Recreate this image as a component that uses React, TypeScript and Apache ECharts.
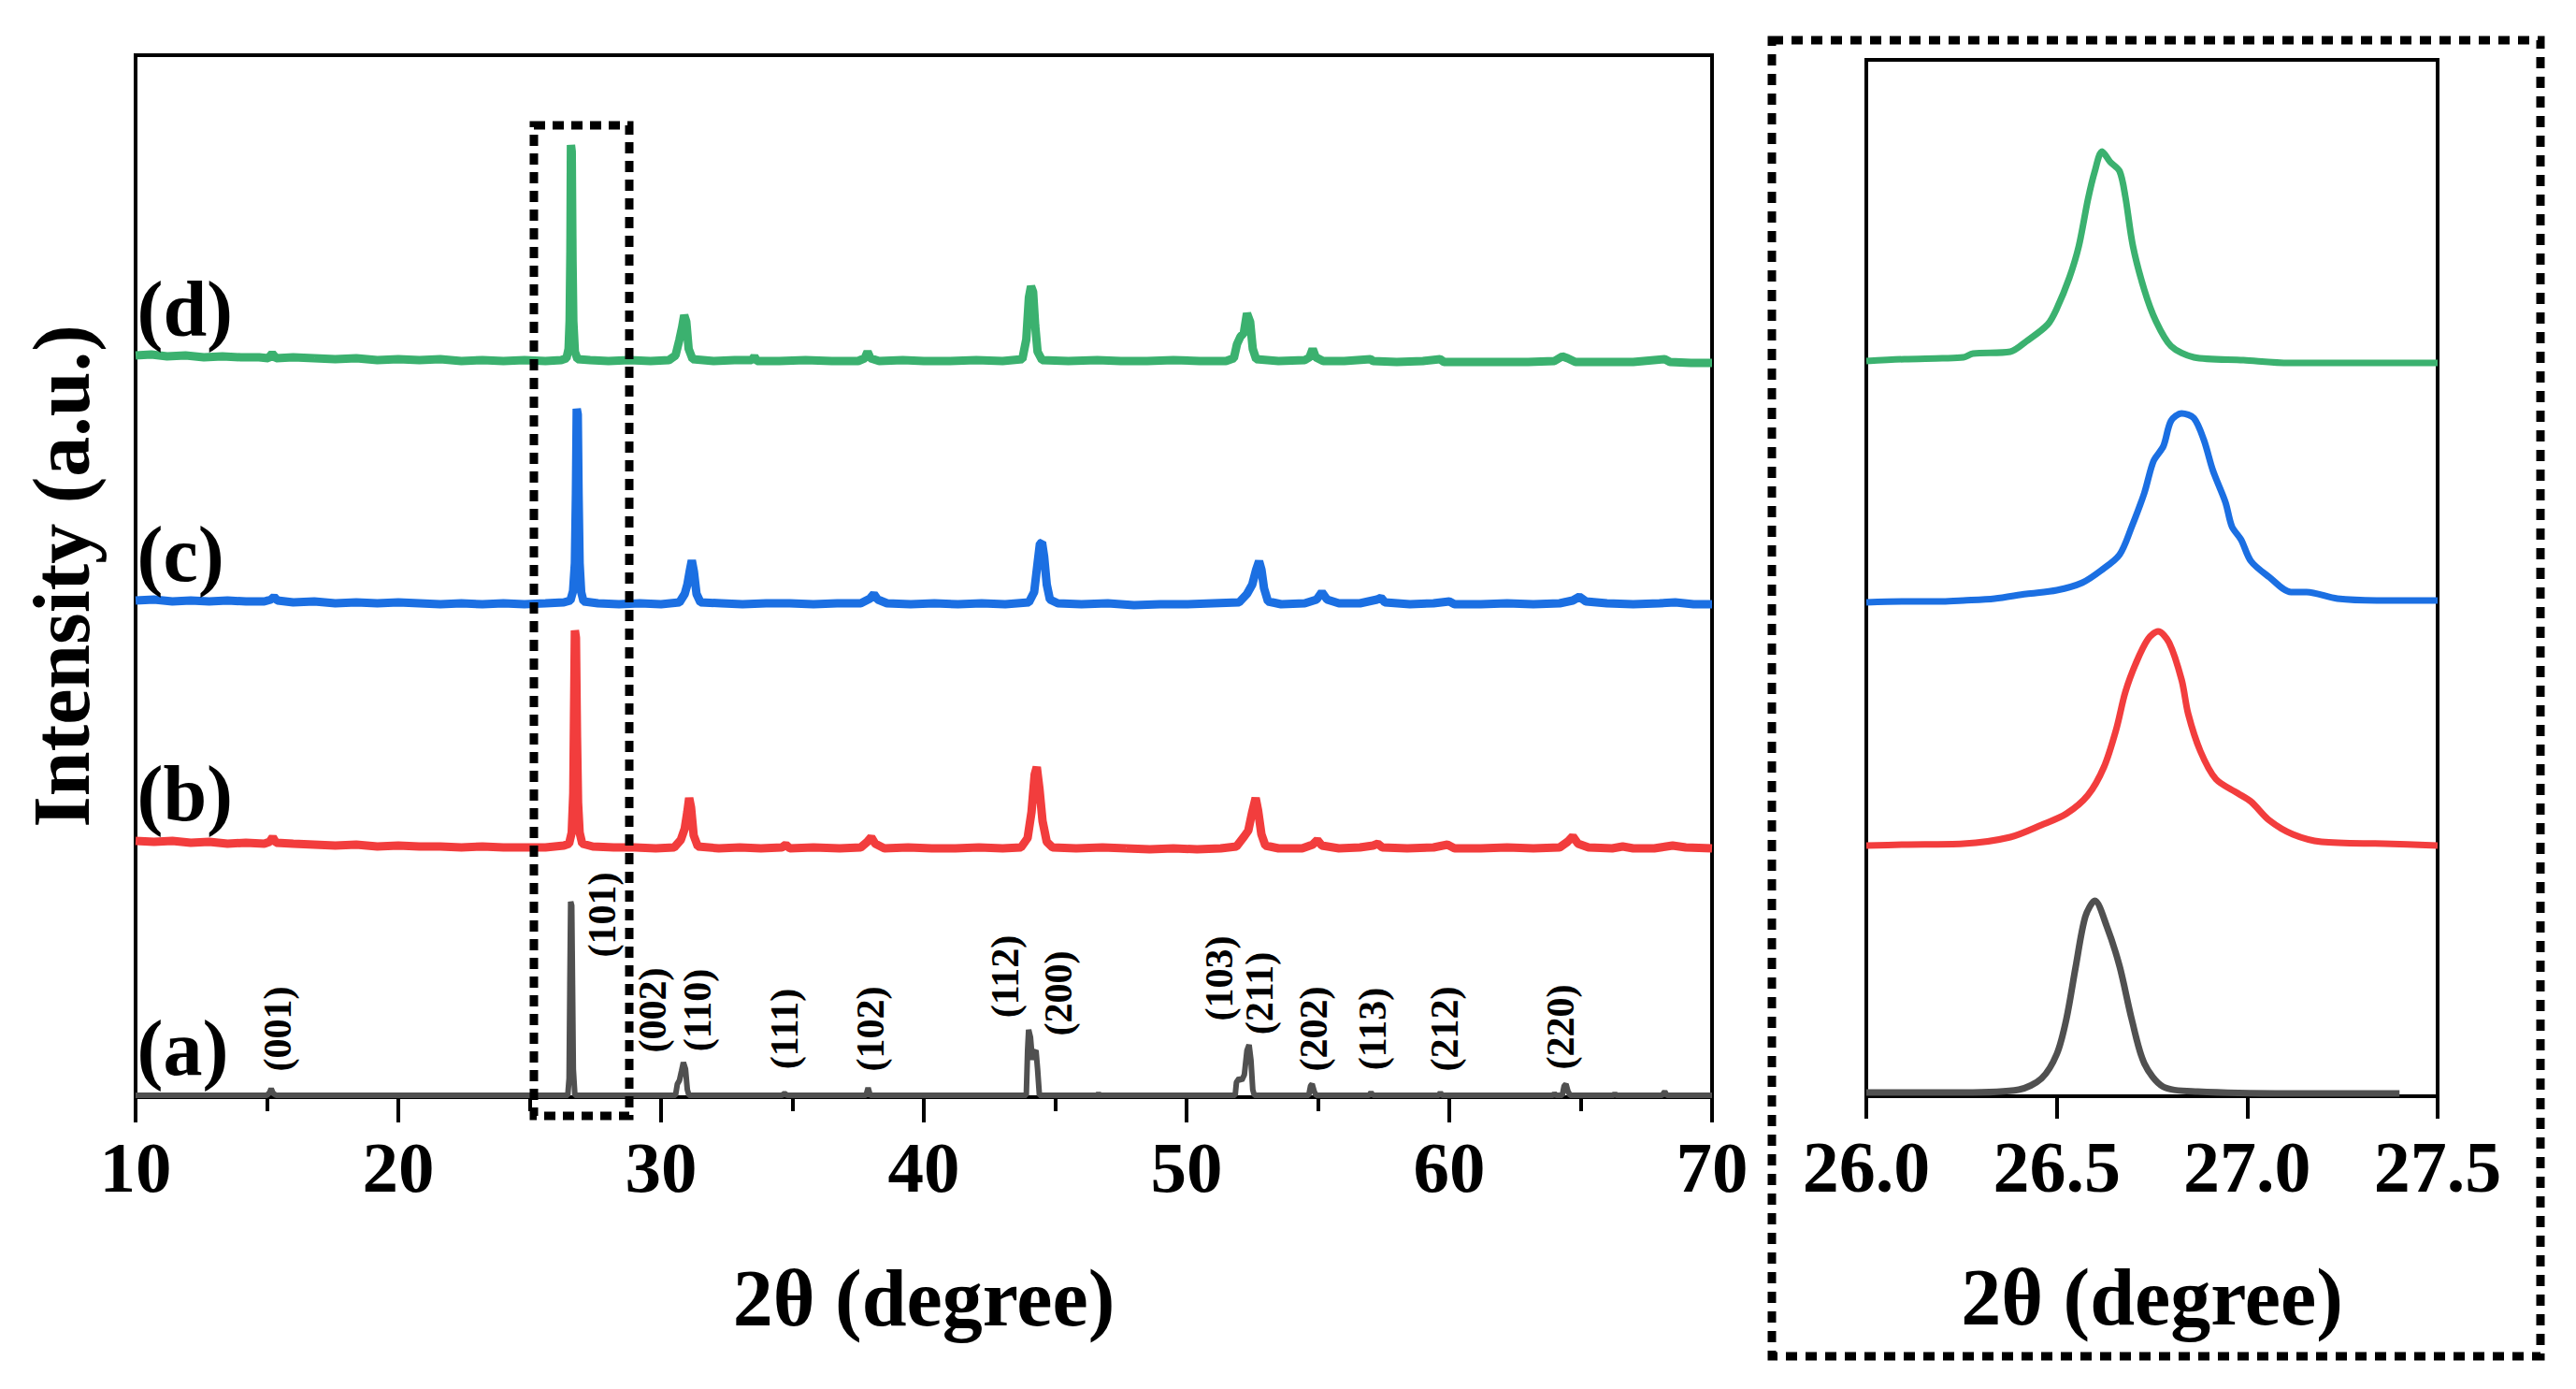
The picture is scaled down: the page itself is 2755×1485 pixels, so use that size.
import React, { useEffect, useRef } from "react";
import * as echarts from "echarts";

const FONT = '"Liberation Serif", "Times New Roman", serif';

// sample names and colours: (a) reference, (b), (c), (d)
const sampleNames = ["(a)", "(b)", "(c)", "(d)"];
const sampleColors = ["#505050", "#f23d3d", "#1b6fe2", "#3bb16f"];
// vertical offsets (a.u.) used to stack the patterns
const offsets = [0, 265, 526, 785];
// y-position (a.u.) of the sample tags
const sampleTagY = [53, 325, 581, 843];
const sampleTagX = 10.05;

// main panel axis
const mainXTicks = [10, 20, 30, 40, 50, 60, 70];
const mainYMax = 1114;
// inset axis
const insetXTicks = [26.0, 26.5, 27.0, 27.5];
const insetYMax = 1108;

// Zoomed region of the main panel (2θ range and a.u. range)
const zoomBoxX = [25.16, 28.79];
const zoomBoxY = [-20, 1039];

// Miller-index labels of the reference pattern (a)
const hklLabels = ["(001)", "(101)", "(002)", "(110)", "(111)", "(102)", "(112)", "(200)", "(103)", "(211)", "(202)", "(113)", "(212)", "(220)"];
const hklX = [15.41, 27.76, 29.68, 31.39, 34.7, 37.97, 43.1, 45.12, 51.25, 52.78, 54.84, 57.08, 59.82, 64.23];
const hklY = [73, 195, 93, 93, 73, 73, 129, 111, 127, 111, 73, 73, 73, 75];

// ---- main panel patterns (2θ, intensity before offset) ----
const patternA: [number, number][] = [
  [10.0, 2], [15.0, 2], [15.1, 5], [15.16, 9], [15.24, 4], [15.35, 2], [26.45, 2], [26.5, 20], [26.53, 120], [26.56, 209], [26.6, 205], [26.63, 120], [26.66, 30], [26.72, 2],
  [30.55, 2], [30.62, 14], [30.7, 18], [30.78, 28], [30.85, 37], [30.93, 30], [31.0, 8], [31.06, 2], [34.6, 2], [34.7, 4], [34.8, 2], [37.8, 2], [37.88, 10], [37.96, 2],
  [43.9, 2], [43.95, 50], [43.99, 72], [44.06, 64], [44.13, 40], [44.2, 48], [44.27, 50], [44.33, 30], [44.4, 2], [46.6, 2], [46.65, 4], [46.7, 2],
  [51.85, 2], [51.9, 16], [52.0, 20], [52.1, 18], [52.2, 24], [52.3, 50], [52.38, 56], [52.45, 40], [52.52, 8], [52.58, 2],
  [54.65, 2], [54.72, 12], [54.78, 14], [54.86, 6], [54.93, 2], [56.95, 2], [57.02, 5], [57.1, 2], [59.6, 2], [59.66, 5], [59.72, 2],
  [63.95, 2], [64.0, 4], [64.06, 2], [64.3, 2], [64.37, 12], [64.44, 14], [64.52, 6], [64.6, 2], [66.25, 2], [66.3, 4], [66.35, 2], [68.1, 2], [68.2, 6], [68.28, 2], [70.0, 2],
];

const patternB: [number, number][] = [
  [10.0, 9], [10.7, 8], [11.4, 9], [12.1, 7], [12.8, 8], [13.5, 6], [14.2, 7], [14.9, 6], [15.1, 8], [15.22, 13], [15.35, 7], [16.0, 6], [16.8, 5], [17.6, 4], [18.4, 5], [19.2, 3],
  [20.0, 4], [20.8, 3], [21.6, 3], [22.4, 2], [23.2, 3], [24.0, 2], [24.8, 2], [25.6, 2], [26.3, 4], [26.5, 6], [26.6, 18], [26.66, 60], [26.69, 150], [26.72, 234], [26.76, 226],
  [26.8, 120], [26.84, 50], [26.9, 18], [27.0, 6], [27.4, 3], [28.2, 2], [29.0, 2], [29.8, 1], [30.5, 2], [30.75, 10], [30.9, 22], [31.0, 40], [31.07, 55], [31.14, 45], [31.24, 15],
  [31.4, 3], [32.2, 1], [33.0, 2], [33.8, 1], [34.6, 2], [34.75, 5], [34.9, 1], [35.8, 2], [36.8, 1], [37.6, 2], [37.85, 8], [38.0, 13], [38.15, 6], [38.5, 1], [39.4, 2], [40.3, 1],
  [41.2, 1], [42.1, 2], [43.0, 1], [43.7, 2], [43.95, 12], [44.1, 40], [44.22, 80], [44.3, 88], [44.4, 65], [44.52, 30], [44.68, 8], [44.9, 2], [45.8, 1], [46.8, 2], [47.7, 1],
  [48.6, 0], [49.5, 1], [50.4, 0], [51.3, 1], [51.9, 3], [52.2, 14], [52.35, 20], [52.5, 40], [52.63, 55], [52.72, 42], [52.85, 16], [53.0, 4], [53.5, 1], [54.4, 1], [54.8, 5],
  [54.98, 10], [55.15, 4], [55.8, 1], [56.6, 2], [57.1, 4], [57.28, 6], [57.45, 2], [58.4, 1], [59.4, 2], [59.93, 5], [60.2, 1], [61.2, 1], [62.2, 2], [63.2, 1], [64.2, 2],
  [64.5, 8], [64.7, 14], [64.9, 6], [65.3, 2], [66.2, 1], [66.6, 3], [67.0, 1], [67.8, 1], [68.5, 4], [69.0, 2], [70.0, 1],
];

const patternC: [number, number][] = [
  [10.0, 5], [10.7, 6], [11.4, 4], [12.1, 5], [12.8, 4], [13.5, 5], [14.2, 4], [14.9, 4], [15.15, 6], [15.27, 9], [15.4, 5], [16.0, 3], [16.8, 4], [17.6, 2], [18.4, 3], [19.2, 2],
  [20.0, 3], [20.8, 2], [21.6, 1], [22.4, 2], [23.2, 1], [24.0, 2], [24.8, 1], [25.6, 2], [26.3, 3], [26.55, 5], [26.65, 15], [26.72, 45], [26.76, 120], [26.79, 210], [26.83, 204],
  [26.86, 120], [26.9, 45], [26.96, 14], [27.05, 4], [27.6, 2], [28.4, 1], [29.2, 2], [30.0, 1], [30.7, 3], [30.9, 12], [31.0, 22], [31.1, 38], [31.17, 48], [31.25, 36], [31.35, 12],
  [31.5, 3], [32.3, 2], [33.1, 1], [34.0, 2], [34.9, 2], [35.8, 1], [36.7, 2], [37.6, 2], [37.95, 7], [38.1, 12], [38.25, 6], [38.6, 2], [39.5, 1], [40.4, 2], [41.3, 1], [42.2, 2],
  [43.1, 1], [44.0, 3], [44.2, 14], [44.33, 45], [44.42, 66], [44.5, 67], [44.58, 52], [44.68, 22], [44.8, 6], [45.1, 2], [46.0, 1], [47.0, 2], [48.0, 0], [49.0, 1], [50.0, 1],
  [51.0, 2], [52.0, 3], [52.3, 12], [52.5, 22], [52.65, 38], [52.76, 47], [52.85, 38], [52.95, 18], [53.1, 4], [53.6, 1], [54.5, 2], [54.95, 6], [55.15, 14], [55.35, 6], [55.8, 2],
  [56.6, 2], [57.25, 6], [57.4, 8], [57.55, 3], [58.5, 1], [59.4, 2], [60.0, 4], [60.2, 1], [61.2, 1], [62.2, 2], [63.2, 1], [64.2, 2], [64.7, 5], [64.95, 9], [65.2, 4], [66.0, 2],
  [67.0, 1], [68.0, 2], [68.6, 3], [69.3, 1], [70.0, 1],
];

const patternD: [number, number][] = [
  [10.0, 8], [10.6, 9], [11.2, 7], [11.9, 8], [12.6, 6], [13.3, 7], [14.0, 6], [14.7, 6], [15.05, 5], [15.2, 10], [15.35, 5], [16.0, 6], [16.8, 5], [17.6, 4], [18.4, 5], [19.2, 3],
  [20.0, 4], [20.8, 3], [21.6, 4], [22.4, 2], [23.2, 3], [24.0, 2], [24.8, 3], [25.6, 2], [26.2, 3], [26.4, 5], [26.48, 15], [26.52, 45], [26.55, 120], [26.57, 233], [26.6, 226],
  [26.63, 110], [26.66, 45], [26.72, 12], [26.82, 4], [27.3, 3], [28.0, 2], [28.8, 3], [29.6, 2], [30.3, 3], [30.55, 8], [30.7, 25], [30.8, 38], [30.88, 51], [30.96, 44], [31.05, 15],
  [31.2, 4], [32.0, 2], [32.8, 3], [33.45, 3], [33.55, 7], [33.65, 2], [34.5, 2], [35.5, 3], [36.5, 2], [37.5, 2], [37.75, 5], [37.86, 12], [37.97, 5], [38.3, 2], [39.2, 3], [40.0, 2],
  [41.0, 2], [42.0, 3], [43.0, 2], [43.75, 4], [43.9, 25], [44.0, 70], [44.08, 82], [44.16, 76], [44.24, 40], [44.33, 12], [44.5, 3], [45.5, 2], [46.6, 3], [47.5, 2], [48.5, 2],
  [49.5, 3], [50.5, 2], [51.5, 2], [51.8, 5], [51.92, 20], [52.05, 28], [52.18, 32], [52.3, 53], [52.42, 44], [52.52, 15], [52.65, 4], [53.5, 2], [54.5, 3], [54.68, 6], [54.8, 15],
  [54.92, 6], [55.2, 2], [56.0, 2], [57.0, 4], [57.1, 2], [58.0, 1], [59.0, 2], [59.65, 4], [59.8, 1], [61.0, 1], [62.0, 1], [63.0, 1], [64.0, 2], [64.3, 7], [64.5, 5], [64.8, 1],
  [66.0, 1], [67.0, 1], [68.2, 4], [68.4, 1], [69.2, 0], [70.0, 0],
];

// ---- inset (101) peak region (2θ, intensity before offset) ----
const insetA: [number, number][] = [
  [26.0, 4], [26.255, 4], [26.4, 7], [26.46, 19], [26.5, 45], [26.525, 82], [26.55, 139], [26.575, 192], [26.6, 209], [26.631, 182], [26.665, 139], [26.697, 82], [26.73, 35],
  [26.78, 10], [26.87, 5], [27.11, 3], [27.4, 3],
];
const insetB: [number, number][] = [
  [26.0, 3], [26.1, 4], [26.255, 5], [26.378, 12], [26.46, 25], [26.525, 37], [26.582, 57], [26.624, 87], [26.656, 127], [26.68, 167], [26.71, 200], [26.74, 224], [26.766, 232],
  [26.795, 220], [26.828, 180], [26.845, 144], [26.877, 104], [26.918, 74], [26.975, 59], [27.01, 50], [27.058, 30], [27.12, 15], [27.195, 7], [27.36, 5], [27.5, 3],
];
const insetC: [number, number][] = [
  [26.0, 2], [26.1, 3], [26.2, 3], [26.255, 4], [26.337, 6], [26.42, 11], [26.5, 15], [26.567, 23], [26.616, 36], [26.665, 53], [26.697, 83], [26.73, 119], [26.754, 153],
  [26.78, 169], [26.8, 196], [26.828, 204], [26.86, 199], [26.886, 176], [26.91, 143], [26.943, 109], [26.96, 83], [26.984, 69], [27.01, 46], [27.058, 29], [27.115, 13],
  [27.156, 13], [27.237, 6], [27.36, 4], [27.5, 4],
];
const insetD: [number, number][] = [
  [26.0, 1], [26.1, 3], [26.2, 4], [26.255, 5], [26.28, 9], [26.378, 11], [26.42, 22], [26.476, 40], [26.5, 57], [26.533, 90], [26.558, 124], [26.582, 174], [26.6, 204],
  [26.619, 225], [26.64, 214], [26.665, 204], [26.68, 177], [26.7, 124], [26.73, 77], [26.76, 44], [26.8, 17], [26.86, 5], [26.99, 2], [27.11, -1], [27.24, -1], [27.5, -1],
];

const mainPatterns = [patternA, patternB, patternC, patternD];
const insetPatterns = [insetA, insetB, insetC, insetD];

// layout (pixels)
const W = 2755;
const H = 1485;
const mainGrid = { left: 145, top: 59, width: 1686, height: 1114 };
const insetGrid = { left: 1996, top: 64, width: 611, height: 1108 };
const insetFrame = { x: 1895, y: 43, width: 822, height: 1407 };

const shift = (pts: [number, number][], off: number) => pts.map(([x, y]) => [x, y + off]);

export default function App() {
  const ref = useRef<HTMLDivElement>(null);
  useEffect(() => {
    if (!ref.current) return;
    const chart = echarts.init(ref.current, null, { renderer: "svg" });
    const txt = { fontFamily: FONT, fontWeight: "bold" as const, color: "#000" };
    const series: any[] = [];
    mainPatterns.forEach((p, i) => {
      series.push({
        type: "line",
        name: sampleNames[i],
        xAxisIndex: 0,
        yAxisIndex: 0,
        data: shift(p, offsets[i]),
        showSymbol: false,
        symbol: "none",
        silent: true,
        lineStyle: { width: i === 0 ? 6 : 9, color: sampleColors[i] },
        z: 3,
      });
    });
    insetPatterns.forEach((p, i) => {
      series.push({
        type: "line",
        name: sampleNames[i] + " inset",
        xAxisIndex: 1,
        yAxisIndex: 1,
        data: shift(p, offsets[i]),
        showSymbol: false,
        symbol: "none",
        smooth: 0.3,
        silent: true,
        lineStyle: { width: 7, color: sampleColors[i] },
        z: 3,
      });
    });
    series.push({
      type: "scatter",
      xAxisIndex: 0,
      yAxisIndex: 0,
      symbolSize: 0,
      silent: true,
      itemStyle: { opacity: 1, color: "#000" },
      data: sampleNames.map((n, i) => ({ name: n, value: [sampleTagX, sampleTagY[i]] })),
      label: { show: true, opacity: 1, position: "inside", align: "left", verticalAlign: "middle", formatter: "{b}", fontSize: 84, ...txt },
      z: 5,
    });
    series.push({
      type: "scatter",
      xAxisIndex: 0,
      yAxisIndex: 0,
      symbolSize: 0,
      silent: true,
      itemStyle: { opacity: 1, color: "#000" },
      data: hklLabels.map((n, i) => ({ name: n, value: [hklX[i], hklY[i]] })),
      label: { show: true, opacity: 1, position: "inside", rotate: 90, align: "center", verticalAlign: "middle", formatter: "{b}", fontSize: 42, ...txt },
      z: 5,
    });

    const option: any = {
      animation: false,
      backgroundColor: "#ffffff",
      grid: [
        { ...mainGrid, show: true, borderColor: "#000", borderWidth: 4, backgroundColor: "transparent" },
        { ...insetGrid, show: true, borderColor: "#000", borderWidth: 4, backgroundColor: "transparent" },
      ],
      xAxis: [
        {
          type: "value",
          gridIndex: 0,
          min: mainXTicks[0],
          max: mainXTicks[mainXTicks.length - 1],
          interval: mainXTicks[1] - mainXTicks[0],
          axisLine: { show: true, lineStyle: { color: "#000", width: 4 } },
          axisTick: { show: true, inside: false, length: 27, lineStyle: { color: "#000", width: 4 } },
          minorTick: { show: true, splitNumber: 2, length: 15, lineStyle: { color: "#000", width: 4 } },
          splitLine: { show: false },
          minorSplitLine: { show: false },
          axisLabel: { fontSize: 77, margin: 36, ...txt },
          name: "2θ (degree)",
          nameLocation: "middle",
          nameGap: 172,
          nameTextStyle: { fontSize: 86, ...txt },
        },
        {
          type: "value",
          gridIndex: 1,
          min: insetXTicks[0],
          max: insetXTicks[insetXTicks.length - 1],
          interval: insetXTicks[1] - insetXTicks[0],
          axisLine: { show: true, lineStyle: { color: "#000", width: 4 } },
          axisTick: { show: true, inside: false, length: 24, lineStyle: { color: "#000", width: 4 } },
          splitLine: { show: false },
          axisLabel: { fontSize: 78, margin: 36, formatter: (v: number) => v.toFixed(1), ...txt },
          name: "2θ (degree)",
          nameLocation: "middle",
          nameGap: 172,
          nameTextStyle: { fontSize: 86, ...txt },
        },
      ],
      yAxis: [
        {
          type: "value",
          gridIndex: 0,
          min: 0,
          max: mainYMax,
          axisLine: { show: true, lineStyle: { color: "#000", width: 4 } },
          axisTick: { show: false },
          axisLabel: { show: false },
          splitLine: { show: false },
          name: "Intensity (a.u.)",
          nameLocation: "middle",
          nameGap: 36,
          nameTextStyle: { fontSize: 86, ...txt },
        },
        {
          type: "value",
          gridIndex: 1,
          min: 0,
          max: insetYMax,
          axisLine: { show: true, lineStyle: { color: "#000", width: 4 } },
          axisTick: { show: false },
          axisLabel: { show: false },
          splitLine: { show: false },
        },
      ],
      series,
    };
    chart.setOption(option);

    const p1 = chart.convertToPixel({ gridIndex: 0 }, [zoomBoxX[0], zoomBoxY[1]]) as number[];
    const p2 = chart.convertToPixel({ gridIndex: 0 }, [zoomBoxX[1], zoomBoxY[0]]) as number[];
    chart.setOption({
      graphic: [
        {
          type: "rect",
          z: 100,
          silent: true,
          shape: { x: p1[0], y: p1[1], width: p2[0] - p1[0], height: p2[1] - p1[1] },
          style: { fill: "none", stroke: "#000", lineWidth: 9, lineDash: [12, 8] },
        },
        {
          type: "rect",
          z: 100,
          silent: true,
          shape: { ...insetFrame },
          style: { fill: "none", stroke: "#000", lineWidth: 9, lineDash: [12, 9] },
        },
      ],
    });
    return () => chart.dispose();
  }, []);
  return (
    <div
      ref={ref}
      style={{ position: "fixed", left: 0, top: 0, width: W, height: H, background: "#fff" }}
    />
  );
}
